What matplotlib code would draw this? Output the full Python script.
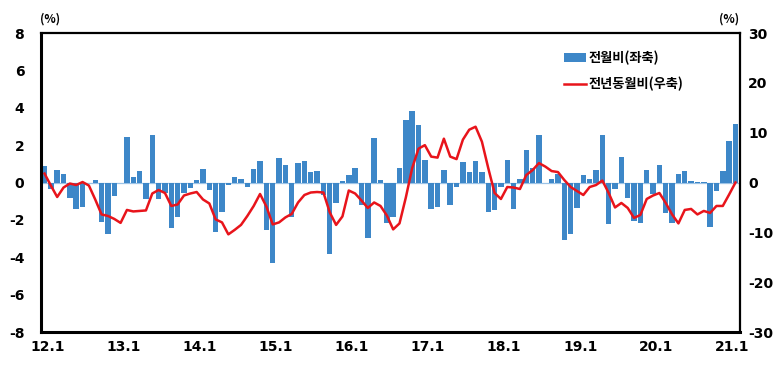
import matplotlib
matplotlib.use("Agg")
import matplotlib.pyplot as plt
import matplotlib.patches as mpatches
import matplotlib.lines as mlines
import numpy as np

plt.rcParams["font.family"] = ["Noto Sans CJK KR", "DejaVu Sans"]
plt.rcParams["axes.unicode_minus"] = False

# ── Data: monthly, 2012.1 – 2021.2 ──────────────────────────────────────────
# 전월비 (month-on-month, %, left axis)
MOM = [0.9, -0.37, 0.65, 0.44, -0.82, -1.39, -1.32, -0.02, 0.16, -2.1, -2.73, -0.74,
       0.0, 2.42, 0.28, 0.62, -0.86, 2.56, -0.86, -0.58, -2.45, -1.85, -0.55, -0.3,
       0.16, 0.7, -0.42, -2.67, -1.6, -0.11, 0.3, 0.19, -0.26, 0.72, 1.17, -2.56,
       -4.29, 1.3, 0.92, -1.84, 1.05, 1.16, 0.58, 0.64, -0.65, -3.8, -1.1, 0.1,
       0.38, 0.79, -1.2, -2.97, 2.37, 0.14, -2.15, -1.85, 0.79, 3.35, 3.84, 3.09,
       1.22, -1.4, -1.32, 0.69, -1.2, -0.25, 1.12, 0.56, 1.17, 0.55, -1.58, -1.49,
       -0.25, 1.21, -1.4, 0.19, 1.74, 0.8, 2.52, -0.04, 0.19, 0.48, -3.1, -2.78,
       -1.37, 0.42, 0.19, 0.69, 2.56, -2.2, -0.35, 1.35, -0.84, -2.05, -2.19, 0.67,
       -0.62, 0.92, -1.63, -2.19, 0.48, 0.6, 0.07, 0.02, 0.02, -2.38, -0.46, 0.62,
       2.22, 3.13]

# 전년동월비 (year-on-year, %, right axis)
YOY = [1.8, -0.6, -2.9, -1.0, -0.2, -0.5, 0.1, -0.6, -3.4, -6.4, -6.7, -7.3,
       -8.1, -5.5, -5.8, -5.7, -5.6, -2.2, -1.5, -2.1, -4.7, -4.4, -2.6, -2.2,
       -1.9, -3.4, -4.2, -7.4, -8.0, -10.4, -9.5, -8.5, -6.7, -4.7, -2.3, -4.8,
       -8.4, -8.0, -7.0, -6.3, -4.0, -2.5, -2.0, -1.9, -2.0, -6.0, -8.5, -6.8,
       -1.6, -2.2, -3.6, -5.1, -4.0, -4.7, -6.6, -9.4, -8.2, -3.0, 2.9, 6.8,
       7.5, 5.2, 5.0, 8.8, 5.2, 4.7, 8.6, 10.6, 11.2, 8.2, 2.9, -2.1,
       -3.3, -0.9, -1.0, -1.3, 1.5, 2.5, 3.9, 3.2, 2.3, 2.1, 0.5, -0.9,
       -1.7, -2.5, -0.9, -0.5, 0.4, -2.1, -5.0, -4.1, -5.1, -7.1, -6.5, -3.3,
       -2.6, -2.1, -4.1, -6.4, -8.2, -5.5, -5.3, -6.4, -5.7, -6.1, -4.7, -4.7,
       -2.4, 0.0]

X_LABELS = ["12.1", "13.1", "14.1", "15.1", "16.1", "17.1", "18.1", "19.1", "20.1", "21.1"]

COL_BAR = "#3D87C8"
COL_LINE = "#E8141B"
COL_ZERO = "#9CC3E6"

# ── Figure ──────────────────────────────────────────────────────────────────
fig = plt.figure(figsize=(7.8, 3.71), dpi=100)
ax = fig.add_axes([0.0526, 0.105, 0.896, 0.806])
ax2 = ax.twinx()

x = np.arange(len(MOM))
ax.bar(x, MOM, width=0.86, color=COL_BAR, edgecolor="none", zorder=2)
ax.axhline(0, color=COL_ZERO, linewidth=0.9, zorder=1)
ax2.plot(x, YOY, color=COL_LINE, linewidth=1.8, zorder=3)

ax.set_xlim(-0.55, 109.7)
ax.set_ylim(-8, 8)
ax.set_yticks(np.arange(-8, 9, 2))
ax2.set_ylim(-30, 30)
ax2.set_yticks(np.arange(-30, 31, 10))

ax.set_xticks(np.arange(0, 109, 12) + 0.5)
ax.set_xticklabels(X_LABELS)

for a in (ax, ax2):
    a.tick_params(axis="both", length=0, labelsize=10, pad=4)
    for lab in a.get_xticklabels() + a.get_yticklabels():
        lab.set_fontweight("bold")
        lab.set_fontfamily("DejaVu Sans")
ax.tick_params(axis="y", pad=12)
ax2.tick_params(axis="y", pad=6)
ax.tick_params(axis="x", pad=6)

for s in ["left", "bottom"]:
    ax.spines[s].set_linewidth(2.2)
for s in ["top", "right"]:
    ax.spines[s].set_linewidth(1.6)
for s in ax2.spines.values():
    s.set_visible(False)

ax2.set_zorder(ax.get_zorder() + 1)
ax2.patch.set_visible(False)

fig.text(0.064, 0.948, "(%)", fontsize=8.5, fontweight="bold", ha="center", va="center")
fig.text(0.935, 0.948, "(%)", fontsize=8.5, fontweight="bold", ha="center", va="center")

handles = [
    mpatches.Patch(facecolor=COL_BAR, label="전월비(좌축)"),
    mlines.Line2D([], [], color=COL_LINE, linewidth=1.8, label="전년동월비(우축)"),
]
leg = ax2.legend(handles=handles, loc="upper left", bbox_to_anchor=(0.732, 0.98),
                 frameon=False, fontsize=9.5, handlelength=1.6, handleheight=0.7,
                 handletextpad=0.2, labelspacing=0.9)
for t in leg.get_texts():
    t.set_fontweight("bold")

fig.savefig("out.png", dpi=100, facecolor="white")
